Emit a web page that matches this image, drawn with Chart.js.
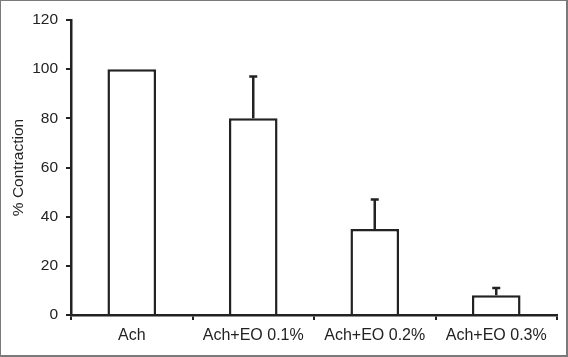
<!DOCTYPE html>
<html>
<head>
<meta charset="utf-8">
<script src="https://cdn.jsdelivr.net/npm/chart.js@4/dist/chart.umd.min.js"></script>
<style>
  html, body { margin: 0; padding: 0; background: #fff; }
  #wrap { width: 568px; height: 357px; box-sizing: border-box; border: 1px solid #7a7a7a; border-bottom-width: 2px; border-right-width: 2px; position: relative; }
  canvas { display: block; }
</style>
</head>
<body>
<div id="wrap"><canvas id="c" width="565" height="354"></canvas></div>
<script>
const categories = ["Ach", "Ach+EO 0.1%", "Ach+EO 0.2%", "Ach+EO 0.3%"];
const contraction = [100, 80, 35, 8];
const errorUpper = [0, 17, 12, 3];
const yTicks = [0, 20, 40, 60, 80, 100, 120];

const errorBars = {
  id: 'errorBars',
  afterDatasetsDraw(chart) {
    const ctx = chart.ctx;
    const meta = chart.getDatasetMeta(0);
    const y = chart.scales.y;
    ctx.save();
    ctx.strokeStyle = '#222';
    ctx.lineWidth = 2.5;
    meta.data.forEach((bar, i) => {
      const err = errorUpper[i];
      if (!err) return;
      const top = y.getPixelForValue(contraction[i] + err);
      const base = y.getPixelForValue(contraction[i]);
      ctx.beginPath();
      ctx.moveTo(bar.x, base);
      ctx.lineTo(bar.x, top);
      ctx.moveTo(bar.x - 4, top);
      ctx.lineTo(bar.x + 4, top);
      ctx.stroke();
    });
    ctx.restore();
  }
};

const fam = 'Liberation Sans, Arial, sans-serif';

new Chart(document.getElementById('c'), {
  type: 'bar',
  data: {
    labels: categories,
    datasets: [{
      data: contraction,
      backgroundColor: '#ffffff',
      borderColor: '#222',
      borderWidth: 2.5,
      borderSkipped: 'bottom',
      barPercentage: 0.4,
      categoryPercentage: 1.0
    }]
  },
  options: {
    responsive: false,
    animation: false,
    layout: { padding: { left: 0, right: 9, top: 19, bottom: 0 } },
    plugins: { legend: { display: false }, tooltip: { enabled: false } },
    scales: {
      x: {
        grid: { display: true, drawOnChartArea: false, drawTicks: true, tickLength: 5, color: '#222', lineWidth: 2, offset: true },
        border: { display: true, color: '#222', width: 2.5 },
        ticks: { color: '#222', font: { family: fam, size: 16 }, padding: 6, maxRotation: 0 },
        afterFit(axis) { axis.height = 40; }
      },
      y: {
        min: 0, max: 120,
        afterBuildTicks(axis) { axis.ticks = yTicks.map(v => ({ value: v })); },
        grid: { display: true, drawOnChartArea: false, drawTicks: true, tickLength: 5, color: '#222', lineWidth: 2 },
        border: { display: true, color: '#222', width: 2.5 },
        ticks: { color: '#222', font: { family: fam, size: 15.5 }, padding: 8 },
        title: { display: true, text: '% Contraction', color: '#222', font: { family: fam, size: 15.5 }, padding: { top: 8, bottom: 0 } },
        afterFit(axis) { axis.width = 70; }
      }
    }
  },
  plugins: [errorBars]
});
</script>
</body>
</html>
